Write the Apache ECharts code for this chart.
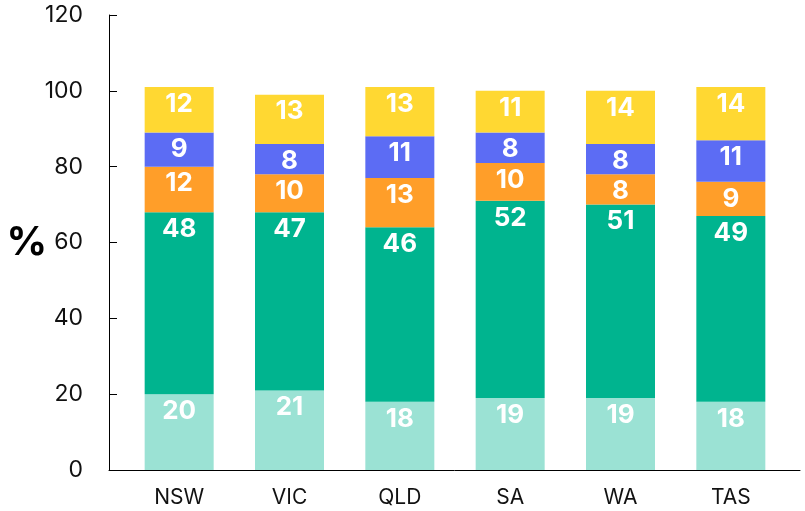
<!DOCTYPE html>
<html>
<head>
<meta charset="utf-8">
<script src="https://cdn.jsdelivr.net/npm/echarts@6/dist/echarts.min.js"></script>
<style>
  html, body { margin: 0; padding: 0; background: #fff; }
  #chart { width: 805px; height: 511px; }
</style>
</head>
<body>
<div id="chart"></div>
<script>
;(function() {
  var states = ['NSW', 'VIC', 'QLD', 'SA', 'WA', 'TAS'];
  var layer1 = [20, 21, 18, 19, 19, 18];
  var layer2 = [48, 47, 46, 52, 51, 49];
  var layer3 = [12, 10, 13, 10, 8, 9];
  var layer4 = [9, 8, 11, 8, 8, 11];
  var layer5 = [12, 13, 13, 11, 14, 14];
  var yTicks = [0, 20, 40, 60, 80, 100, 120];

  var colors = ['#9be2d4', '#00b48f', '#ff9e29', '#5c6cf4', '#ffd832'];
  var font = 'Inter, "Noto Sans", sans-serif';

  function layer(name, data, color) {
    return {
      name: name,
      type: 'bar',
      stack: 'total',
      xAxisIndex: 0,
      yAxisIndex: 0,
      barWidth: 69,
      data: data,
      itemStyle: { color: color },
      label: {
        show: true,
        position: 'insideTop',
        distance: 4,
        color: '#fff',
        fontFamily: font,
        fontWeight: 'bold',
        fontSize: 26
      }
    };
  }

  var chart = echarts.init(document.getElementById('chart'));
  chart.setOption({
    animation: false,
    grid: [
      { left: 124, right: 19, top: 15, bottom: 41, outerBoundsMode: 'none' },
      { left: 109, right: 5, top: 15, bottom: 41, outerBoundsMode: 'none' }
    ],
    xAxis: [
      {
        type: 'category', gridIndex: 0, data: states,
        axisLine: { show: false }, axisTick: { show: false },
        axisLabel: { color: '#111', fontFamily: font, fontSize: 21, margin: 17 }
      },
      {
        type: 'value', gridIndex: 1, min: 0, max: 1,
        axisLine: { show: true, onZero: false, lineStyle: { color: '#000', width: 1 } },
        axisTick: { show: false }, axisLabel: { show: false }, splitLine: { show: false }
      }
    ],
    yAxis: [
      {
        type: 'value', gridIndex: 0, min: yTicks[0], max: yTicks[yTicks.length - 1],
        interval: 20, show: false
      },
      {
        type: 'value', gridIndex: 1, min: yTicks[0], max: yTicks[yTicks.length - 1],
        interval: 20,
        name: '%', nameLocation: 'middle', nameRotate: 0, nameGap: 62,
        nameMoveOverlap: false,
        nameTextStyle: {
          color: '#000', fontFamily: font, fontWeight: 'bold', fontSize: 40,
          padding: [34, 0, 0, 0]
        },
        axisLine: { show: true, onZero: false, lineStyle: { color: '#000', width: 1 } },
        axisTick: { show: true, inside: true, length: 8, lineStyle: { color: '#000' } },
        axisLabel: { color: '#111', fontFamily: font, fontSize: 23, margin: 26 },
        splitLine: { show: false }
      }
    ],
    series: [
      layer('s1', layer1, colors[0]),
      layer('s2', layer2, colors[1]),
      layer('s3', layer3, colors[2]),
      layer('s4', layer4, colors[3]),
      layer('s5', layer5, colors[4])
    ]
  });
})();
</script>
</body>
</html>
